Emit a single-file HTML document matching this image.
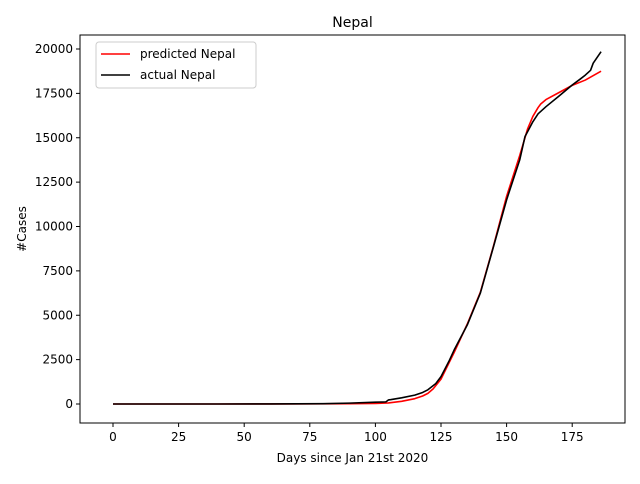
<!DOCTYPE html>
<html><head><meta charset="utf-8"><style>
body{margin:0;background:#fff;font-family:"DejaVu Sans","Liberation Sans",sans-serif}
</style></head><body>
<svg id="chart" width="640" height="480" font-family="DejaVu Sans, Liberation Sans, sans-serif">
<rect width="640" height="480" fill="#fff"/>
<g id="plot"></g>
</svg>
<script>
const days = [0,20,40,60,80,90,100,104,105,106,110,115,118,120,123,125,128,130,135,140,145,150,155,157,160,162,165,170,175,178,180,182,183,186];
const actualCases = [0,0,0,5,20,50,100,120,230,250,350,500,650,800,1150,1540,2400,3040,4450,6250,8860,11500,13750,15060,15900,16350,16750,17350,17970,18300,18530,18800,19200,19850];
const predDays = [0,20,40,60,80,90,100,105,110,115,118,120,122,125,128,130,135,140,145,150,155,158,160,162,163,165,170,175,180,186];
const predictedCases = [0,0,0,2,8,15,30,60,150,300,450,600,850,1400,2300,2900,4500,6300,8900,11700,14000,15500,16200,16700,16900,17150,17550,17950,18250,18750];
const xTicks = [0,25,50,75,100,125,150,175];
const yTicks = [0,2500,5000,7500,10000,12500,15000,17500,20000];

const L=80,R=625,T=35,B=423;
const X=d=>113+d*2.624;
const Y=v=>404-v*0.01775;
const NS='http://www.w3.org/2000/svg';
const g=document.getElementById('plot');
function mk(tag,attrs,parent){const e=document.createElementNS(NS,tag);for(const k in attrs)e.setAttribute(k,attrs[k]);(parent||g).appendChild(e);return e;}

xTicks.forEach(t=>{
  const gt=mk('g',{});
  
  
  mk('line',{x1:X(t),x2:X(t),y1:B,y2:B+4,stroke:'#000'},gt);
  const tx=mk('text',{x:X(t),y:B+18,'text-anchor':'middle','font-size':12},gt);tx.textContent=t;
});
yTicks.forEach(t=>{
  const gt=mk('g',{});
  
  
  mk('line',{x1:L-4,x2:L,y1:Y(t),y2:Y(t),stroke:'#000'},gt);
  const tx=mk('text',{x:L-7,y:Y(t)+4,'text-anchor':'end','font-size':12},gt);tx.textContent=t;
});

const pr=mk('polyline',{points:predDays.map((d,i)=>X(d)+','+Y(predictedCases[i])).join(' '),fill:'none',stroke:'#ff0000','stroke-width':1.6,'stroke-linejoin':'round'});


const ac=mk('polyline',{points:days.map((d,i)=>X(d)+','+Y(actualCases[i])).join(' '),fill:'none',stroke:'#000','stroke-width':1.6,'stroke-linejoin':'round'});



const fr=mk('rect',{x:L,y:T,width:R-L,height:B-T,fill:'none',stroke:'#000','stroke-width':1});



const title=mk('text',{x:(L+R)/2,y:27,'text-anchor':'middle','font-size':14});title.textContent='Nepal';


const xl=mk('text',{x:(L+R)/2,y:462,'text-anchor':'middle','font-size':12});xl.textContent='Days since Jan 21st 2020';


const yl=mk('text',{x:26,y:229,'text-anchor':'middle','font-size':12,transform:'rotate(-90 26 229)'});yl.textContent='#Cases';



const lg=mk('g',{});


mk('rect',{x:96,y:42,width:160,height:46,rx:3,fill:'#fff',stroke:'#ccc'},lg);
const e1=mk('g',{},lg);


mk('line',{x1:101,x2:130,y1:54,y2:54,stroke:'#ff0000','stroke-width':1.6},e1);
const t1=mk('text',{x:140,y:58,'font-size':12},e1);t1.textContent='predicted Nepal';
const e2=mk('g',{},lg);


mk('line',{x1:101,x2:130,y1:75,y2:75,stroke:'#000','stroke-width':1.6},e2);
const t2=mk('text',{x:140,y:79,'font-size':12},e2);t2.textContent='actual Nepal';
</script>
</body></html>
